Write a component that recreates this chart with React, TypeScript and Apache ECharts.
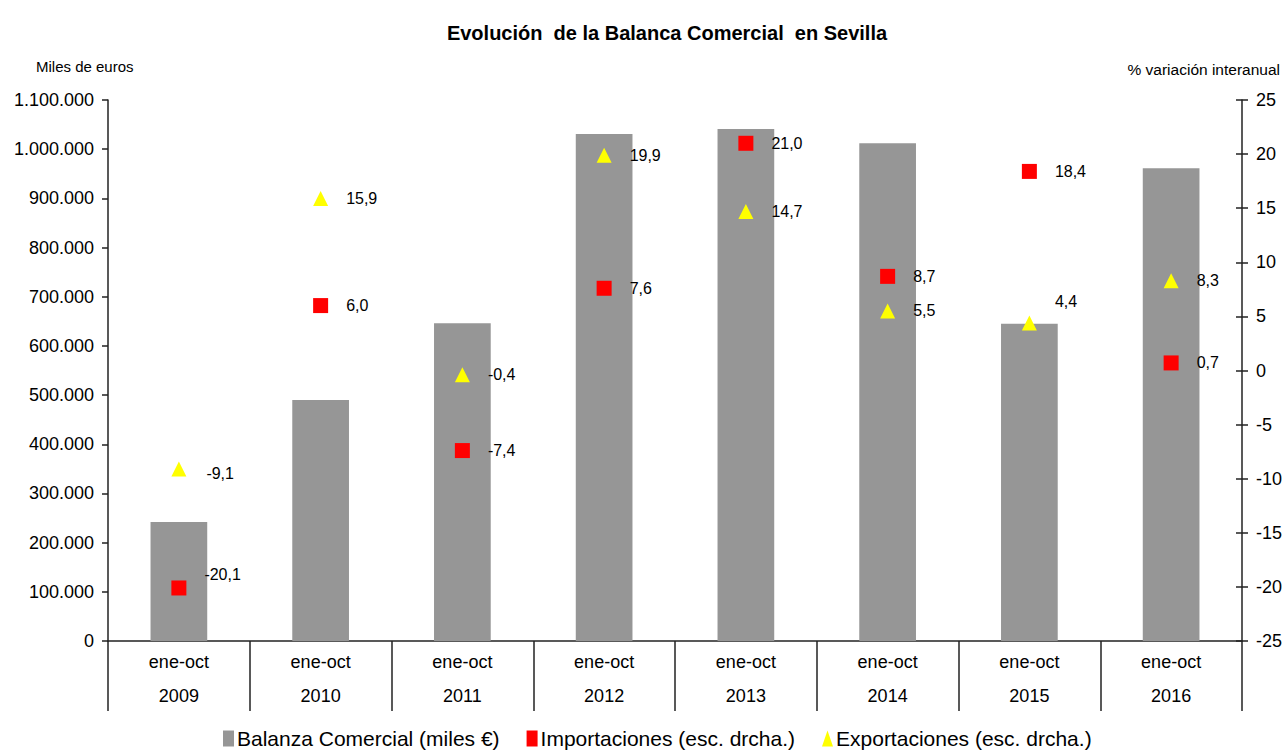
import React, { useEffect, useRef } from "react";
import * as echarts from "echarts";

const periods = ["ene-oct", "ene-oct", "ene-oct", "ene-oct", "ene-oct", "ene-oct", "ene-oct", "ene-oct"];
const years = ["2009", "2010", "2011", "2012", "2013", "2014", "2015", "2016"];
const balanza = [242000, 490000, 646000, 1031000, 1041000, 1012000, 645000, 961000];
const importaciones = [-20.1, 6.0, -7.4, 7.6, 21.0, 8.7, 18.4, 0.7];
const exportaciones = [-9.1, 15.9, -0.4, 19.9, 14.7, 5.5, 4.4, 8.3];

const FONT = "'Liberation Sans', Arial, sans-serif";
const fmtComma = (v: number) => v.toFixed(1).replace(".", ",");
const fmtDots = (v: number) => String(v).replace(/\B(?=(\d{3})+(?!\d))/g, ".");

// label offsets (styling) per point index
const impOffsets: Record<number, [number, number]> = { 0: [0, -13] };
const expOffsets: Record<number, [number, number]> = { 0: [2, 5], 6: [0, -21] };

export default function App() {
  const ref = useRef<HTMLDivElement>(null);
  useEffect(() => {
    if (!ref.current) return;
    const chart = echarts.init(ref.current, undefined, { renderer: "svg" });
    const labelBase = {
      show: true,
      position: "right" as const,
      distance: 18,
      color: "#000",
      fontSize: 16,
      fontFamily: FONT,
      formatter: (p: any) => fmtComma(p.value),
    };
    chart.setOption({
      animation: false,
      textStyle: { fontFamily: FONT },
      title: {
        text: "Evolución  de la Balanca Comercial  en Sevilla",
        left: 662,
        textAlign: "center",
        top: 18,
        textStyle: { fontSize: 20, fontWeight: "bold", color: "#000", fontFamily: FONT },
      },
      graphic: [
        { type: "text", left: 36, top: 59, style: { text: "Miles de euros", fontSize: 15, fill: "#000", fontFamily: FONT } },
        { type: "text", right: 6, top: 61, style: { text: "% variación interanual", fontSize: 15.5, fill: "#000", fontFamily: FONT } },
      ],
      legend: {
        top: 728,
        left: 223,
        itemWidth: 11,
        itemHeight: 16,
        itemGap: 27,
        padding: 0,
        itemStyle: { borderWidth: 0 },
        textStyle: { fontSize: 21, color: "#000", fontFamily: FONT, padding: [0, 0, 0, -2] },
        data: [
          { name: "Balanza Comercial (miles €)", icon: "rect" },
          { name: "Importaciones (esc. drcha.)", icon: "rect" },
          { name: "Exportaciones (esc. drcha.)", icon: "triangle" },
        ],
      },
      grid: { left: 108, right: 44, top: 100, bottom: 114 },
      xAxis: {
        type: "category",
        data: years.map((y, i) => `{a|${periods[i]}}\n{b|${y}}`),
        axisLine: { lineStyle: { color: "#222", width: 1.5 } },
        axisTick: { show: true, length: 70, lineStyle: { color: "#222", width: 1.5 } },
        axisLabel: {
          margin: 4,
          color: "#000",
          fontSize: 18,
          fontFamily: FONT,
          rich: {
            a: { fontSize: 18, lineHeight: 34, color: "#000", fontFamily: FONT },
            b: { fontSize: 18, lineHeight: 34, color: "#000", fontFamily: FONT },
          },
        },
      },
      yAxis: [
        {
          type: "value",
          min: 0,
          max: 1100000,
          interval: 100000,
          splitLine: { show: false },
          axisLine: { show: true, lineStyle: { color: "#222", width: 1.5 } },
          axisTick: { show: true, length: 6, lineStyle: { color: "#222", width: 1.5 } },
          axisLabel: { formatter: fmtDots, fontSize: 18, color: "#000", margin: 14, fontFamily: FONT },
        },
        {
          type: "value",
          position: "right",
          min: -25,
          max: 25,
          interval: 5,
          splitLine: { show: false },
          axisLine: { show: true, lineStyle: { color: "#222", width: 1.5 } },
          axisTick: { show: true, length: 6, lineStyle: { color: "#222", width: 1.5 } },
          axisLabel: { fontSize: 18, color: "#000", margin: 14, fontFamily: FONT },
        },
        {
          type: "value",
          position: "right",
          min: -25,
          max: 25,
          interval: 5,
          splitLine: { show: false },
          axisLine: { show: false },
          axisTick: { show: true, inside: true, length: 6, lineStyle: { color: "#222", width: 1.5 } },
          axisLabel: { show: false },
        },
      ],
      series: [
        {
          name: "Balanza Comercial (miles €)",
          type: "bar",
          yAxisIndex: 0,
          data: balanza,
          barWidth: "40%",
          itemStyle: { color: "#969696" },
        },
        {
          name: "Importaciones (esc. drcha.)",
          type: "scatter",
          yAxisIndex: 1,
          symbol: "rect",
          symbolSize: 15,
          itemStyle: { color: "#ff0000", opacity: 1 },
          label: labelBase,
          data: importaciones.map((v, i) => (impOffsets[i] ? { value: v, label: { offset: impOffsets[i] } } : v)),
        },
        {
          name: "Exportaciones (esc. drcha.)",
          type: "scatter",
          yAxisIndex: 1,
          symbol: "triangle",
          symbolSize: 15,
          itemStyle: { color: "#ffff00", opacity: 1 },
          label: labelBase,
          data: exportaciones.map((v, i) => (expOffsets[i] ? { value: v, label: { offset: expOffsets[i] } } : v)),
        },
      ],
    });
    return () => chart.dispose();
  }, []);
  return <div ref={ref} style={{ position: "absolute", left: 0, top: 0, width: 1286, height: 755 }} />;
}
